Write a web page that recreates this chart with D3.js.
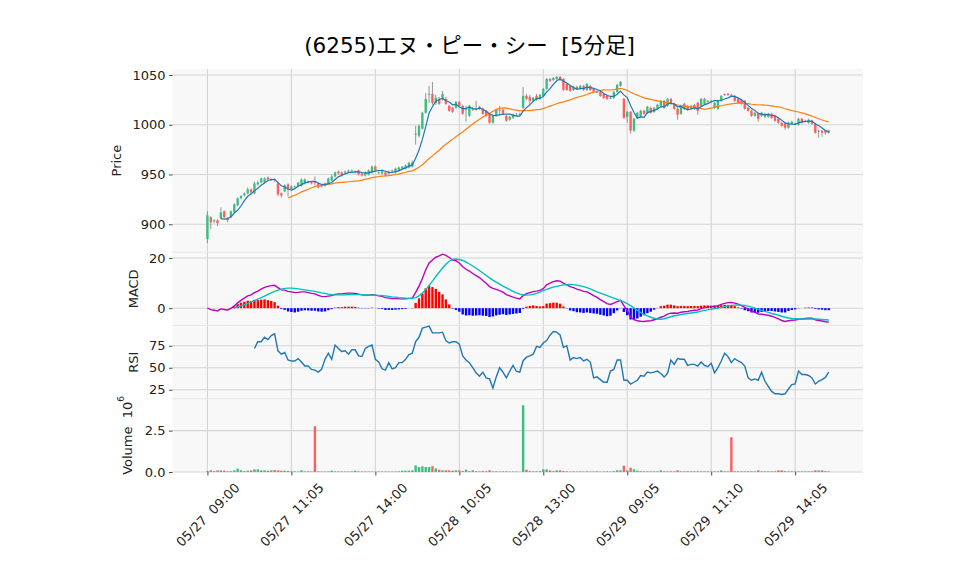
<!DOCTYPE html>
<html><head><meta charset="utf-8">
<script src="https://cdnjs.cloudflare.com/ajax/libs/d3/7.8.5/d3.min.js"></script>
<style>
body{margin:0;background:#fff;}
svg{display:block;font-family:"DejaVu Sans","Noto Sans CJK JP",sans-serif;}
svg text{white-space:pre;}
</style></head><body>
<svg id="chart" width="958" height="575"></svg>
<script>
// ---------------- data ----------------
const title = "(6255)エヌ・ピー・シー  [5分足]";
const tickIndex = [0, 25, 50, 75, 100, 125, 150, 175];
const tickLabels = ["05/27  09:00","05/27  11:05","05/27  14:00","05/28  10:05","05/28  13:00","05/29  09:05","05/29  11:10","05/29  14:05"];
const priceTicks = [900, 950, 1000, 1050];
const macdTicks = [0, 20];
const rsiTicks = [25, 50, 75];
const volTicks = [0, 2.5];

const open = [
 885,907,903,904,906,913,906,907,912,919,926,929,931,935,931,940,942,942,947,945,
 945,941,931,933,940,935,938,938,939,941,943,942,942.5,941,939,939,941,944,948,953,
 952,952,953,953,953,954,951,949,950,952,958,952,951,952,951,954,952,954,956,956,
 957,958,
 990,989,996,1012,1030,1031,1022,1026,1026,1026,1019,1017,1017,1023,1019,1016,1009,1016,1016,1018,
 1016,1014,1011,1002,1009,1015,1015,1009,1005,1007,1010,1010,1017,1029,1028,1024,1029,1026,1029,1036,
 1046,1045,1046,1048,1046,1041,1039,1035,1038,1036,1039,1035,1039,1036,1033,1033,1031,1029,1027,1027,
 1033,1039,
 1026,1008,1013,994,1007,1008,1014,1012,1017,1013,1016,1019,1024,1019,1026,1021,1016,1011,1021,1019,
 1016,1020,1022,1019,1021,1023,1024,1017,1016,1024,1031,1031,1030,1029,1026,1025,1024,1017,1014,1009,
 1011,1009,1008,1008,1011,1009,1006,1002,1001,997,1001,1001,1000,1006,1004,1002,1004,1001,994,994,
 994,992];
const high = [
 913,908,905,905,917,914,907,914,921,927,929,932,937,936,943,944,947,947,948,946,
 946,942,932,940,941,939,939,942,946,946,944,943,948,942,940,942,947,950,953,954,
 953,954,955,955,954,955,952,953,955,959,959,953,954,953,954,955,957,958,958,960,
 962,964,
 999,1000,1013,1032,1039,1043,1030,1028,1034,1028,1020,1018,1024,1024,1020,1019,1020,1018,1024,1019,
 1017,1015,1012,1010,1016,1019,1016,1010,1009,1011,1012,1012,1038,1031,1030,1028,1031,1031,1037,1047,
 1047,1048,1049,1049,1047,1042,1040,1039,1039,1040,1040,1042,1040,1037,1034,1034,1032,1030,1029,1034,
 1041,1044,
 1027,1014,1014,1007,1013,1015,1015,1019,1018,1018,1021,1025,1025,1027,1027,1022,1017,1020,1022,1020,
 1020,1021,1023,1027,1027,1025,1025,1023,1025,1030,1031,1032,1031,1030,1027,1026,1025,1018,1015,1013,
 1012,1013,1012,1012,1012,1010,1007,1003,1002,1003,1004,1002,1007,1007,1005,1006,1005,1002,995,995,
 995,995];
const low = [
 881,895,901,898,905,906,902,906,911,918,925,928,930,930,930,939,941,941,944,944,
 943,928,927,932,928,934,937,937,938,940,941,940,939,936,937,938,940,943,947,950,
 948,951,952,952,951,949,948,948,949,951,953,951,950,948,950,952,951,953,955,955,
 956,957,
 980,987,995,1011,1022,1020,1020,1020,1024,1020,1013,1012,1016,1018,1010,1003,1008,1014,1014,1015,
 1010,1008,1001,1001,1008,1009,1010,1003,1004,1006,1009,1009,1016,1025,1021,1023,1024,1025,1028,1035,
 1043,1044,1045,1044,1034,1034,1033,1034,1035,1035,1034,1034,1034,1032,1032,1028,1026,1025,1026,1026,
 1032,1038,
 1006,1002,991,993,1006,1007,1010,1011,1011,1012,1015,1018,1016,1018,1020,1015,1005,1010,1015,1014,
 1015,1015,1010,1018,1020,1022,1022,1016,1015,1023,1029,1029,1028,1023,1021,1020,1015,1013,1008,1008,
 1003,1008,1007,1007,1006,1003,1001,998,995,996,1000,1000,999,1001,1003,1001,1000,991,987,988,
 990,991];
const close = [
 909,902,904,901,912,907,904,913,920,926,928.5,931,935,932,941,942,946,946,945,945,
 944,930,929,939,935,938,938,942,945,945,942,941,942,937,938,941,946,948,952,951,
 949,953,954,954,953,950,949,952,954,958,954,952,953,949,953,953,956,957,958,959,
 962,962,
 991,999,1012,1026,1031,1022,1027,1021,1031,1021,1014,1013,1023,1019,1011,1016,1019,1016,1016,1016,
 1011,1009,1002,1009,1015,1015,1011,1004,1008,1010,1010,1011,1029,1026,1024,1027,1025,1030,1036,1046,
 1044,1047,1048,1045,1035,1035,1034,1038,1036,1039,1035,1041,1035,1033,1033,1029,1027,1026,1027,1033,
 1040,1043,
 1007,1013,994,1006,1012,1014,1011,1018,1012,1017,1020,1024,1017,1026,1021,1016,1010,1019,1016,1015,
 1019,1016,1014,1026,1026,1024,1024,1022,1024,1029,1030,1030,1029,1024,1022,1021,1016,1014,1009,1012,
 1006,1012,1011,1011,1007,1004,1002,999,997,1002,1003,1001,1006,1002,1004,1005,1001,992,994,992,
 992,994];
// volume in millions of shares
const volume = [
 0.06,0.10,0.05,0.10,0.10,0.08,0.04,0.05,0.10,0.20,0.10,0.05,0.08,0.10,0.16,0.16,0.10,0.10,0.08,0.10,
 0.12,0.10,0.08,0.08,0.06,0.04,0.04,0.03,0.10,0.04,0.04,0.03,2.76,0.04,0.03,0.03,0.04,0.08,0.04,0.03,
 0.03,0.03,0.03,0.04,0.08,0.04,0.03,0.03,0.03,0.03,0.03,0.03,0.03,0.03,0.03,0.03,0.03,0.04,0.08,0.08,
 0.08,0.10,
 0.40,0.30,0.34,0.30,0.30,0.35,0.22,0.14,0.10,0.10,0.10,0.08,0.10,0.10,0.06,0.14,0.05,0.10,0.05,0.04,
 0.05,0.04,0.10,0.04,0.04,0.03,0.04,0.04,0.03,0.03,0.03,0.02,4.03,0.14,0.05,0.04,0.04,0.05,0.16,0.16,
 0.10,0.05,0.10,0.10,0.05,0.04,0.03,0.04,0.03,0.04,0.03,0.04,0.03,0.03,0.04,0.03,0.03,0.04,0.03,0.05,
 0.10,0.10,
 0.38,0.10,0.26,0.16,0.08,0.05,0.04,0.04,0.04,0.04,0.04,0.10,0.04,0.04,0.04,0.04,0.10,0.04,0.04,0.04,
 0.04,0.04,0.04,0.04,0.04,0.04,0.04,0.04,0.04,0.10,0.04,0.04,2.10,0.04,0.04,0.04,0.04,0.04,0.04,0.04,
 0.10,0.04,0.04,0.04,0.04,0.04,0.10,0.10,0.05,0.04,0.04,0.04,0.04,0.04,0.04,0.04,0.04,0.10,0.10,0.10,
 0.05,0.04];
const ma5 = [null,null,null,null,
 905.6,905.2,905.6,907.4,911.2,914.0,918.3,923.7,928.1,930.5,933.5,936.2,939.2,941.4,944.0,944.8,
 945.2,942.0,938.6,937.4,935.4,934.2,935.8,938.4,939.6,941.6,942.4,943.0,943.0,941.4,940.0,939.8,940.8,942.0,945.0,947.6,
 949.2,950.6,951.8,952.2,952.6,952.8,952.0,951.6,951.6,952.6,953.4,954.0,954.2,953.2,952.2,952.0,952.8,953.6,955.4,956.6,
 958.4,959.6,966.4,974.6,985.2,998.0,1011.8,1018.0,1023.6,1025.4,1026.4,1024.4,1022.8,1020.0,1020.4,1018.0,1016.0,1016.4,1017.6,1016.2,
 1015.6,1016.6,1015.6,1013.6,1010.8,1009.4,1009.2,1010.0,1010.4,1010.8,1010.6,1009.6,1008.6,1008.6,1013.6,1017.2,1020.0,1023.4,1026.2,1026.4,
 1028.4,1032.8,1036.2,1040.6,1044.2,1046.0,1043.8,1042.0,1039.4,1037.4,1035.6,1036.4,1036.4,1037.8,1037.2,1036.6,1035.4,1034.2,1031.4,1029.6,
 1028.4,1028.4,1030.6,1033.8,1030.0,1027.2,1019.4,1012.6,1006.4,1007.8,1007.4,1012.2,1013.4,1014.4,1015.6,1018.2,1018.0,1020.8,1021.6,1020.8,
 1018.0,1018.4,1016.4,1015.2,1015.8,1017.0,1016.0,1018.0,1020.2,1021.2,1022.8,1024.4,1024.0,1024.6,1025.8,1027.0,1028.4,1028.4,1027.0,1025.2,
 1022.4,1019.4,1016.4,1014.4,1011.4,1010.6,1010.0,1010.4,1009.4,1009.0,1007.0,1004.6,1001.8,1000.8,1000.6,1000.4,1001.8,1002.8,1003.2,1003.6,
 1003.6,1000.8,999.2,996.8,994.2,992.8];
const ma25 = [null,null,null,null,null,null,null,null,null,null,null,null,null,null,null,null,null,null,null,null,null,null,null,null,
 926.6,927.7,929.2,930.7,932.5,933.8,935.2,936.7,937.8,938.5,939.0,939.5,940.1,940.6,941.4,941.8,
 942.1,942.4,942.7,943.0,943.4,943.6,944.4,945.3,945.9,946.8,947.4,948.0,948.4,948.6,948.9,949.4,950.0,950.6,951.4,952.2,
 953.1,953.7,955.4,957.3,959.8,962.8,966.0,968.7,971.6,974.3,977.6,980.4,982.9,985.3,987.9,990.5,992.8,995.4,998.2,1000.7,
 1003.2,1005.6,1007.8,1009.8,1011.5,1013.4,1015.5,1016.5,1017.0,1016.6,1015.9,1015.1,1014.6,1014.0,1014.3,1014.1,1014.2,1014.7,1015.2,1015.5,
 1016.2,1017.6,1018.7,1019.8,1021.1,1022.2,1023.0,1024.0,1025.0,1026.4,1027.5,1028.4,1029.2,1030.4,1031.7,1032.7,1033.6,1034.4,1035.0,1034.9,
 1034.9,1035.3,1035.8,1036.5,1035.6,1034.7,1032.6,1031.1,1029.7,1028.3,1027.0,1026.3,1025.4,1024.7,1024.0,1023.5,1022.6,1022.2,1021.4,1020.7,
 1019.8,1019.2,1018.7,1018.2,1017.9,1017.5,1016.7,1016.2,1015.5,1016.2,1016.6,1017.7,1018.4,1019.1,1019.8,1020.5,1021.0,1021.4,1021.6,1021.7,
 1021.4,1021.2,1020.6,1020.2,1019.8,1019.9,1019.6,1019.4,1019.0,1018.4,1017.9,1017.3,1016.1,1015.2,1014.3,1013.4,1012.8,1011.9,1010.9,1009.9,
 1008.7,1007.2,1006.0,1004.8,1003.7,1002.8];
const macd = [
 0,-0.6,-0.8,-1.1,-0.3,-0.5,-0.7,-0.1,0.9,2.1,3.1,4.0,4.9,5.3,6.2,6.8,7.6,8.3,8.7,9.0,
 9.1,8.2,7.3,7.2,6.7,6.5,6.2,6.3,6.5,6.5,6.2,5.9,5.7,5.1,4.7,4.6,4.8,5.0,5.5,5.7,
 5.7,5.9,6.0,6.0,5.9,5.6,5.3,5.2,5.2,5.4,5.2,4.9,4.7,4.2,4.0,3.8,3.8,3.7,3.7,3.7,
 3.9,4.0,6.3,8.8,11.8,15.3,18.0,19.2,20.3,20.8,21.5,21.0,20.2,19.2,18.9,18.0,16.5,15.5,14.8,13.8,
 13.0,12.2,11.0,9.9,8.6,7.9,7.5,7.0,6.4,5.4,4.9,4.4,4.0,3.7,5.0,5.8,6.2,6.6,6.8,7.1,
 7.8,9.3,10.0,10.6,10.9,10.8,10.0,9.3,8.6,8.2,7.6,7.2,6.7,6.5,5.8,5.0,4.3,3.4,2.6,1.8,
 1.5,2.0,2.6,3.1,1.0,-1.0,-3.5,-4.6,-5.0,-5.2,-5.3,-5.1,-5.0,-4.6,-4.2,-3.6,-3.2,-2.4,-2.0,-1.9,
 -2.0,-1.6,-1.4,-1.3,-1.0,-0.8,-0.7,-0.2,0.2,0.4,0.6,0.8,1.0,1.5,1.9,2.2,2.3,2.0,1.6,1.0,
 0.3,-0.4,-1.3,-1.6,-2.3,-2.4,-2.6,-2.8,-3.2,-3.7,-4.3,-4.9,-5.3,-5.0,-4.8,-4.7,-4.4,-4.3,-4.1,-4.0,
 -4.0,-4.6,-4.9,-5.1,-5.4,-5.5];
const signal = [null,null,null,null,null,null,null,null,
 0.1,0.5,0.9,1.4,1.9,2.5,3.0,3.6,4.2,4.8,5.5,6.1,
 6.7,7.2,7.6,7.9,8.0,8.0,7.9,7.7,7.5,7.3,7.1,6.9,6.7,6.4,6.1,5.9,5.6,5.4,5.3,5.3,
 5.3,5.3,5.4,5.4,5.4,5.4,5.4,5.3,5.3,5.2,5.2,5.1,5.0,4.9,4.7,4.5,4.4,4.2,4.1,4.0,
 3.9,3.9,4.2,4.9,6.0,7.4,9.0,10.8,12.6,14.3,16.0,17.5,18.7,19.4,19.6,19.4,19.0,18.4,17.6,16.8,
 15.9,15.0,14.0,13.0,12.1,11.2,10.4,9.6,8.8,8.1,7.4,6.7,6.1,5.6,5.3,5.2,5.3,5.5,5.9,6.4,
 7.0,7.5,8.0,8.4,8.7,9.0,9.3,9.4,9.5,9.4,9.2,8.9,8.6,8.2,7.7,7.1,6.5,6.0,5.5,5.0,
 4.5,4.0,3.5,3.0,2.5,1.8,1.0,0.0,-0.9,-1.8,-2.5,-3.1,-3.6,-4.0,-4.3,-4.4,-4.2,-3.8,-3.4,-3.0,
 -2.8,-2.5,-2.3,-2.1,-1.9,-1.7,-1.5,-1.2,-0.9,-0.7,-0.4,-0.2,0.0,0.3,0.6,0.9,1.1,1.2,1.3,1.2,
 1.1,0.8,0.4,0.0,-0.5,-0.9,-1.3,-1.7,-2.1,-2.4,-2.8,-3.2,-3.6,-3.9,-4.1,-4.2,-4.3,-4.3,-4.3,-4.3,
 -4.3,-4.3,-4.4,-4.5,-4.6,-4.7];
const rsi = [null,null,null,null,null,null,null,null,null,null,null,null,null,null,
 71.9,79.6,79.6,84.6,81.9,86.5,
 88.5,69.2,65.4,67.3,58.8,57.7,57.7,60.4,56.5,51.9,51.9,48.1,47.3,45.0,48.1,59.6,66.5,59.6,75.8,71.9,
 68.5,69.2,65.4,70.4,70.4,63.5,62.7,71.9,74.2,75.8,59.6,56.5,48.8,47.3,55.8,48.8,50.0,55.8,55.8,59.6,
 65.0,66.5,79.6,84.6,95.0,96.2,97.3,89.6,89.6,89.6,90.4,80.8,78.1,79.6,79.6,76.9,63.5,58.8,55.8,50.0,
 44.2,40.4,45.0,38.5,37.3,26.9,39.6,50.0,45.0,38.5,46.0,52.7,46.0,45.0,58.0,62.0,63.5,65.4,74.2,73.0,
 78.1,80.8,87.0,91.2,90.4,87.3,73.0,75.0,58.8,61.5,60.4,61.5,57.7,59.6,56.5,38.5,39.6,36.5,33.5,33.5,
 46.2,48.1,58.8,58.8,35.8,35.8,31.5,33.5,35.8,41.2,40.4,45.0,44.2,45.0,46.2,43.5,39.6,43.5,58.8,53.8,
 60.4,59.6,59.6,52.7,53.8,53.8,51.9,56.5,52.7,51.2,55.0,44.2,50.0,57.7,66.5,62.7,55.8,60.4,57.7,55.8,
 51.9,38.5,35.8,37.3,35.8,45.0,34.6,28.8,23.1,20.4,20.4,19.6,20.4,25.8,30.8,31.5,46.2,42.3,42.3,41.2,
 38.5,31.5,34.6,36.5,39.0,45.0];

// ---------------- layout ----------------
const svg = d3.select("#chart");
const L = 172.5, R = 863;
const P = { price:[69,252.2], macd:[252.2,325.5], rsi:[325.5,398.8], vol:[398.8,472] };
const UP = "#3dbd80", DOWN = "#ff5e5e", WICK = "#8a8a8a", GRID = "#d4d4d4", BG = "#f8f8f8";
const FONT = "'DejaVu Sans', 'Noto Sans CJK JP', sans-serif";
const n = close.length;

const x = d3.scaleLinear().domain([-10.4, 195.2]).range([L, R]);
const yP = d3.scaleLinear().domain([871.9, 1056]).range([P.price[1], P.price[0]]);
const yM = d3.scaleLinear().domain([-6.9, 22.3]).range([P.macd[1], P.macd[0]]);
const yR = d3.scaleLinear().domain([14.7, 98]).range([P.rsi[1], P.rsi[0]]);
const yV = d3.scaleLinear().domain([0, 4.42]).range([P.vol[1], P.vol[0]]);

// title
svg.append("text").attr("x", 469.5).attr("y", 53).attr("text-anchor","middle")
  .attr("font-size", 21.5).attr("fill","#000").text(title);

function panel(range, yScale, ticks, fmt, labelX) {
  const [t, b] = range;
  const g = svg.append("g");
  g.append("rect").attr("x", L).attr("y", t).attr("width", R - L).attr("height", b - t)
    .attr("fill", BG);
  g.selectAll("line.gy").data(ticks).join("line")
    .attr("x1", L).attr("x2", R).attr("y1", d => yScale(d)).attr("y2", d => yScale(d))
    .attr("stroke", GRID).attr("stroke-width", 1.1);
  g.selectAll("line.gx").data(tickIndex).join("line")
    .attr("x1", d => x(d)).attr("x2", d => x(d)).attr("y1", t).attr("y2", b)
    .attr("stroke", GRID).attr("stroke-width", 1.1);
  const ax = svg.append("g").attr("transform", `translate(${L},0)`)
    .call(d3.axisLeft(yScale).tickValues(ticks).tickFormat(fmt).tickSize(3.5).tickPadding(3.5));
  ax.select(".domain").remove();
  ax.selectAll(".tick line").attr("stroke", "#333").attr("stroke-width", 0.9);
  ax.selectAll(".tick text").attr("font-size", 13).attr("fill", "#222").attr("font-family", FONT);
  return svg.append("text")
    .attr("transform", `translate(${labelX},${(t + b) / 2}) rotate(-90)`)
    .attr("text-anchor", "middle").attr("dominant-baseline","central")
    .attr("font-size", 13).attr("fill", "#222");
}

panel(P.price, yP, priceTicks, d3.format("d"), 116).text("Price");
panel(P.macd, yM, macdTicks, d3.format("d"), 133).text("MACD");
panel(P.rsi, yR, rsiTicks, d3.format("d"), 133).text("RSI");
const vlab = panel(P.vol, yV, volTicks, d3.format(".1f"), 127);
vlab.append("tspan").text("Volume  10");
vlab.append("tspan").attr("font-size", 9).attr("dy", -6).text("6");

// panel separators
[P.macd[0], P.rsi[0], P.vol[0]].forEach(yy => {
  svg.append("line").attr("x1", L).attr("x2", R).attr("y1", yy).attr("y2", yy)
    .attr("stroke", "#e6e6e6").attr("stroke-width", 1);
});

const idx = d3.range(n);
const bw = 2.4;
const colorOf = i => close[i] > open[i] ? UP : (close[i] < open[i] ? DOWN : WICK);

// candles
const cg = svg.append("g");
cg.selectAll("line.wick").data(idx).join("line")
  .attr("x1", i => x(i)).attr("x2", i => x(i))
  .attr("y1", i => yP(high[i])).attr("y2", i => yP(low[i]))
  .attr("stroke", WICK).attr("stroke-width", 0.9);
cg.selectAll("rect.body").data(idx).join("rect")
  .attr("x", i => x(i) - bw / 2).attr("width", bw)
  .attr("y", i => yP(Math.max(open[i], close[i])))
  .attr("height", i => Math.max(0.9, Math.abs(yP(open[i]) - yP(close[i]))))
  .attr("fill", colorOf);

// moving averages
const lineP = arr => d3.line().defined(i => arr[i] != null).x(i => x(i)).y(i => yP(arr[i]))(idx);
svg.append("path").attr("d", lineP(ma25)).attr("fill", "none").attr("stroke", "#ff7f0e").attr("stroke-width", 1.2);
svg.append("path").attr("d", lineP(ma5)).attr("fill", "none").attr("stroke", "#1f77b4").attr("stroke-width", 1.2);

// MACD histogram
const hg = svg.append("g");
hg.selectAll("rect").data(idx.filter(i => signal[i] != null)).join("rect")
  .attr("x", i => x(i) - bw / 2).attr("width", bw)
  .attr("y", i => Math.min(yM(0), yM(macd[i] - signal[i])))
  .attr("height", i => Math.abs(yM(macd[i] - signal[i]) - yM(0)))
  .attr("fill", i => macd[i] - signal[i] >= 0 ? "#ff0000" : "#0000ff");
const lineM = arr => d3.line().defined(i => arr[i] != null).x(i => x(i)).y(i => yM(arr[i]))(idx);
svg.append("path").attr("d", lineM(macd)).attr("fill", "none").attr("stroke", "#bf00bf").attr("stroke-width", 1.4);
svg.append("path").attr("d", lineM(signal)).attr("fill", "none").attr("stroke", "#00bfbf").attr("stroke-width", 1.4);

// RSI
svg.append("path").attr("d", d3.line().defined(i => rsi[i] != null).x(i => x(i)).y(i => yR(rsi[i]))(idx))
  .attr("fill", "none").attr("stroke", "#1f77b4").attr("stroke-width", 1.4);

// volume
svg.append("g").selectAll("rect").data(idx).join("rect")
  .attr("x", i => x(i) - bw / 2).attr("width", bw)
  .attr("y", i => yV(volume[i])).attr("height", i => yV(0) - yV(volume[i]))
  .attr("fill", i => close[i] >= open[i] ? UP : DOWN);

// x axis
const xa = svg.append("g").attr("transform", `translate(0,${P.vol[1]})`)
  .call(d3.axisBottom(x).tickValues(tickIndex).tickFormat((d, k) => tickLabels[k]).tickSize(3.5));
xa.select(".domain").remove();
xa.selectAll(".tick line").attr("stroke", "#333").attr("stroke-width", 0.9);
xa.selectAll(".tick text").attr("y", null).attr("dy", null)
  .attr("text-anchor", "middle").attr("dominant-baseline", "central")
  .attr("transform", "translate(0,43) rotate(-45)")
  .attr("font-size", 13).attr("fill", "#222").attr("font-family", FONT);
</script>
</body></html>
